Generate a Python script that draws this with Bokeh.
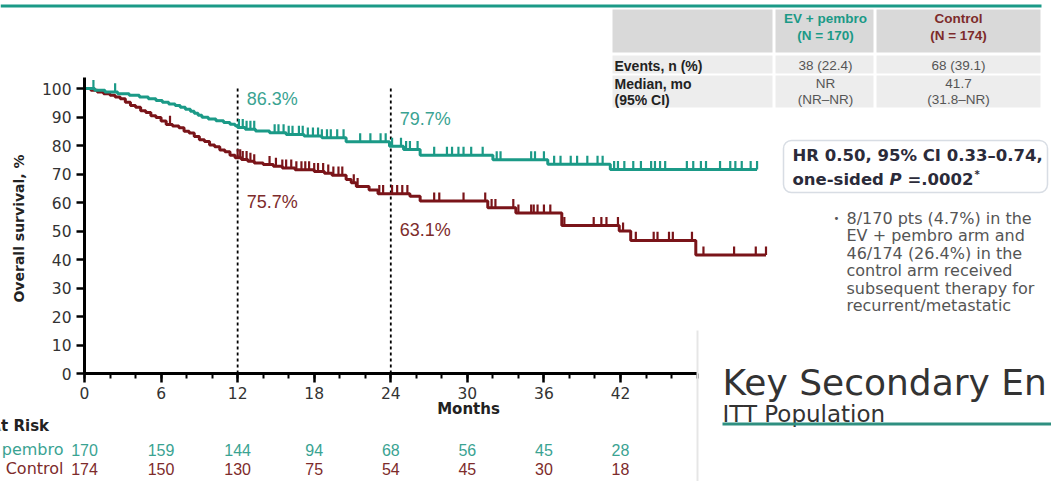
import math
from bokeh.plotting import figure
from bokeh.models import Range1d, FixedTicker, Label, LabelSet, BoxAnnotation, ColumnDataSource
from bokeh.embed import file_html
from bokeh.resources import INLINE
from bokeh.core.properties import value

# ---------------- data ----------------
ev_times = [0, 0.8, 1.6, 2.6, 3.5, 4.3, 5.0, 5.6, 6.1, 6.6, 7.1, 7.5, 7.9, 8.3, 8.6, 8.9, 9.2, 9.7,
            10.3, 10.9, 11.4, 11.8, 12.0, 12.6, 13.4, 14.5, 15.8, 17.2, 18.6, 20.5, 23.9, 25.0,
            26.3, 32.0, 36.3, 41.2, 52.7]
ev_surv = [100, 99.4, 98.8, 98.2, 97.6, 97.0, 96.4, 95.8, 95.2, 94.6, 94.0, 93.4, 92.7, 92.0, 91.3,
           90.6, 89.9, 89.3, 88.7, 88.1, 87.5, 86.9, 86.3, 85.7, 85.1, 84.5, 83.9, 83.3, 82.7, 81.3,
           79.7, 78.6, 76.6, 75.0, 73.4, 71.6, 71.6]
ev_censor = [0.7, 2.4, 12.1, 12.4, 12.7, 13.0, 13.3, 14.9, 15.2, 15.6, 16.0, 16.3, 16.8, 17.1, 17.5,
             17.9, 18.3, 18.6, 19.0, 19.3, 19.8, 20.3, 21.6, 22.4, 23.2, 23.6, 24.1, 24.8, 25.2,
             25.5, 26.1, 27.4, 28.4, 28.8, 29.3, 29.7, 30.3, 31.2, 32.3, 32.6, 35.0, 35.3, 36.0,
             36.8, 37.3, 38.1, 38.6, 39.4, 40.2, 40.6, 41.5, 41.8, 42.3, 43.0, 43.6, 44.4, 44.7,
             45.1, 45.5, 47.2, 47.7, 48.3, 48.7, 49.8, 50.6, 51.0, 51.5, 52.2, 52.7]

ctl_times = [0, 0.5, 1.0, 1.5, 2.0, 2.4, 2.8, 3.2, 3.6, 4.0, 4.4, 4.8, 5.2, 5.6, 6.0, 6.4, 6.9, 7.4,
             7.8, 8.2, 8.6, 9.0, 9.4, 9.8, 10.2, 10.6, 11.0, 11.4, 11.8, 12.3, 12.8, 13.3, 14.0,
             14.8, 15.5, 16.5, 18.0, 18.8, 19.4, 20.5, 20.9, 21.3, 22.3, 23.0, 25.5, 26.3, 31.6,
             33.8, 37.4, 41.9, 42.8, 47.9, 53.4]
ctl_surv = [100, 99.4, 98.8, 98.2, 97.6, 97.0, 96.4, 95.2, 94.0, 93.4, 92.2, 91.6, 90.4, 89.8, 88.6,
            87.4, 86.8, 86.2, 85.0, 84.4, 83.2, 82.0, 81.4, 80.2, 79.6, 78.4, 77.8, 76.6, 75.7,
            75.1, 74.5, 73.9, 73.3, 72.7, 72.1, 71.5, 70.9, 70.3, 69.6, 68.1, 66.9, 65.6, 64.4,
            63.1, 62.2, 60.5, 58.2, 56.3, 51.9, 50.0, 46.7, 41.6, 41.6]
ctl_censor = [6.7, 12.0, 12.2, 12.4, 12.7, 13.0, 13.3, 14.5, 15.0, 15.5, 15.8, 16.2, 16.6, 17.0,
              17.3, 17.6, 18.0, 18.3, 18.7, 19.1, 19.5, 19.9, 20.2, 21.1, 21.4, 23.1, 23.4, 24.1,
              24.5, 24.9, 25.3, 27.4, 27.8, 29.7, 31.4, 31.9, 32.2, 33.6, 34.0, 35.0, 35.2, 35.5,
              36.0, 36.5, 37.6, 39.9, 40.5, 40.9, 41.8, 42.2, 43.2, 44.6, 44.9, 45.8, 46.1, 47.6,
              48.5, 50.9, 52.6, 53.4]

landmark_months = [12, 24]
ev_landmark = ["86.3%", "79.7%"]
ctl_landmark = ["75.7%", "63.1%"]

risk_months = [0, 6, 12, 18, 24, 30, 36, 42]
ev_at_risk = [170, 159, 144, 94, 68, 56, 45, 28]
ctl_at_risk = [174, 150, 130, 75, 54, 45, 30, 18]

y_ticks = [0, 10, 20, 30, 40, 50, 60, 70, 80, 90, 100]
minor_x = [0, 2, 4, 6, 8, 10, 12, 14, 16, 18, 20, 22, 24, 26, 28, 30, 32, 34, 36, 38, 40, 42, 44, 46, 48]

table_cols = ["EV + pembro", "Control"]
table_n = ["(N = 170)", "(N = 174)"]
events = ["38 (22.4)", "68 (39.1)"]
median = ["NR", "41.7"]
median_ci = ["(NR\u2013NR)", "(31.8\u2013NR)"]

footnote = ["8/170 pts (4.7%) in the", "EV + pembro arm and", "46/174 (26.4%) in the",
            "control arm received", "subsequent therapy for", "recurrent/metastatic"]

# ---------------- style ----------------
TEAL = "#1b9a87"
TEAL_TXT = "#3aa392"
RED = "#7a1419"
RED_TXT = "#7d2b2b"
DJ = "DejaVu Sans"
LB = "Liberation Sans"

W, H = 1051, 481
ORG_X, ORG_Y = 84, 373      # picture pixel of (0 months, 0 %)
PX_X = 12.762               # px per month
PX_Y = 2.85                 # px per % point
x0 = -ORG_X / PX_X
y0 = -(H - ORG_Y) / PX_Y

p = figure(width=W, height=H, output_backend="svg", toolbar_location=None,
           x_range=Range1d(x0, x0 + W / PX_X), y_range=Range1d(y0, y0 + H / PX_Y),
           min_border=0, min_border_left=0, min_border_right=0, min_border_top=0,
           min_border_bottom=0)
p.outline_line_color = None
p.xgrid.visible = False
p.ygrid.visible = False
p.background_fill_color = "white"
p.border_fill_color = "white"

# axes (drawn at the data origin)
xa = p.xaxis[0]
xa.fixed_location = 0
xa.ticker = FixedTicker(ticks=risk_months, minor_ticks=minor_x)
xa.bounds = (0, 48)
xa.axis_line_width = 3
xa.axis_line_color = "black"
xa.major_tick_line_width = 2.5
xa.major_tick_out = 9
xa.major_tick_in = 0
xa.minor_tick_line_width = 2
xa.minor_tick_out = 5
xa.minor_tick_in = 0
xa.major_label_text_font = DJ
xa.major_label_text_font_size = "15.5px"
xa.major_label_text_color = "#333333"
xa.major_label_standoff = 4

ya = p.yaxis[0]
ya.fixed_location = 0
ya.ticker = FixedTicker(ticks=y_ticks, minor_ticks=[])
ya.bounds = (0, 104)
ya.axis_line_width = 3
ya.axis_line_color = "black"
ya.major_tick_line_width = 2.5
ya.major_tick_out = 8
ya.major_tick_in = 0
ya.minor_tick_out = 0
ya.major_label_text_font = DJ
ya.major_label_text_font_size = "15.5px"
ya.major_label_text_color = "#333333"
ya.major_label_standoff = 5

# landmark dotted lines
p.segment(x0=landmark_months, x1=landmark_months, y0=[0, 0], y1=[101, 101],
          line_color="black", line_width=1.8, line_dash="3 3")


def surv_at(times, surv, t):
    s = surv[0]
    for ti, si in zip(times, surv):
        if ti <= t:
            s = si
    return s


# curves
for times, surv, cens, col in ((ctl_times, ctl_surv, ctl_censor, RED),
                               (ev_times, ev_surv, ev_censor, TEAL)):
    p.step(times, surv, mode="after", line_color=col, line_width=3)
    cy = [surv_at(times, surv, t) for t in cens]
    p.segment(x0=cens, x1=cens, y0=cy, y1=[v + 3.0 for v in cy], line_color=col, line_width=2.2)


def RX(x):
    return x


def RY(y):
    return H - y


def lab(x, y, text, size, color="#333333", style="normal", align="left", baseline="middle",
        xu="screen", font=DJ, xoff=0, angle=0):
    p.add_layout(Label(x=x, y=y, x_units=xu, y_units="screen", text=text, text_font=font,
                       text_font_size=f"{size}px", text_font_style=style, text_color=color,
                       text_align=align, text_baseline=baseline, x_offset=xoff, angle=angle))


def box(xa0, ya0, xa1, ya1, fill, line=None, lw=1, radius=0, level="underlay"):
    p.add_layout(BoxAnnotation(left=RX(xa0), right=RX(xa1), top=RY(ya0), bottom=RY(ya1),
                               left_units="screen", right_units="screen",
                               top_units="screen", bottom_units="screen",
                               fill_color=fill, fill_alpha=1, line_color=line, line_width=lw,
                               border_radius=radius, level=level))


# axis titles
lab(RX(18), RY(228), "Overall survival, %", 14, "#222222", "bold", "center", angle=math.pi / 2)
lab(RX(468), RY(408), "Months", 15, "#222222", "bold", "center")

# landmark labels
for m, t_ev, t_ct, ye, yc in zip(landmark_months, ev_landmark, ctl_landmark, [98, 118], [201, 229]):
    lab(m, RY(ye), t_ev, 18, TEAL_TXT, xu="data", xoff=9, font=LB)
    lab(m, RY(yc), t_ct, 18, RED_TXT, xu="data", xoff=9, font=LB)

# top rule
box(0, 4, 1041, 7, TEAL)

# table
cols_x = [(612, 772), (775, 873), (876, 1040)]
for (a, b) in cols_x:
    box(a, 9, b, 52, "#d9d9d9")
    box(a, 55, b, 73, "#ededed")
    box(a, 75, b, 107, "#ededed")
for cx, name, n, ev, md, ci, col in zip([825, 958], table_cols, table_n, events, median, median_ci,
                                         [TEAL, RED_TXT]):
    lab(RX(cx), RY(18), name, 13.5, col, "bold", "center", font=LB)
    lab(RX(cx), RY(35), n, 13.5, col, "bold", "center", font=LB)
    lab(RX(cx), RY(65), ev, 13.5, "#555555", "normal", "center", font=LB)
    lab(RX(cx), RY(83), md, 13.5, "#555555", "normal", "center", font=LB)
    lab(RX(cx), RY(99), ci, 13.5, "#555555", "normal", "center", font=LB)
lab(RX(614), RY(65), "Events, n (%)", 14, "#222222", "bold", font=LB)
lab(RX(614), RY(83), "Median, mo", 14, "#222222", "bold", font=LB)
lab(RX(614), RY(99), "(95% CI)", 14, "#222222", "bold", font=LB)

# HR box
box(783, 140, 1047, 192, "white", line="#7f8fa6", lw=1.5, radius=8, level="annotation")
lab(RX(792), RY(155), "HR 0.50, 95% CI 0.33\u20130.74,", 16.5, "#2b2b3a", "bold")
lab(RX(792), RY(179), "one-sided", 16.5, "#2b2b3a", "bold")
lab(RX(889), RY(179), "P", 16.5, "#2b2b3a", "bold italic")
lab(RX(907), RY(179), "=.0002", 16.5, "#2b2b3a", "bold")
lab(RX(974), RY(174), "*", 10, "#2b2b3a", "bold")

# footnote
lab(RX(833), RY(218), "\u2022", 10, "#555555")
for i, line in enumerate(footnote):
    lab(RX(846), RY(218 + i * 17.4), line, 16, "#555555")

# overlapping next slide
box(696, 330, 698, 481, "#e6e6e6", level="annotation")
lab(RX(722), RY(382), "Key Secondary En", 36, "#333333", baseline="alphabetic")
lab(RX(722), RY(413), "ITT Population", 23, "#333333", baseline="alphabetic")
box(722, 422, 1051, 425, "#2e8f80", level="annotation")

# at-risk table
lab(RX(-11), RY(425), "At Risk", 15, "#222222", "bold")
lab(RX(63), RY(449), "EV + pembro", 16, TEAL_TXT, align="right")
lab(RX(63), RY(468), "Control", 16, RED_TXT, align="right")
for vals, yy, col in ((ev_at_risk, 449, TEAL_TXT), (ctl_at_risk, 468, RED_TXT)):
    src = ColumnDataSource(dict(x=risk_months, t=[str(v) for v in vals]))
    p.add_layout(LabelSet(x="x", y=RY(yy), y_units="screen", text="t", source=src,
                          text_align="center", text_baseline="middle",
                          text_font=value(LB), text_font_size=value("16px"),
                          text_color=col))

open("out.html", "w").write(file_html(p, INLINE))
